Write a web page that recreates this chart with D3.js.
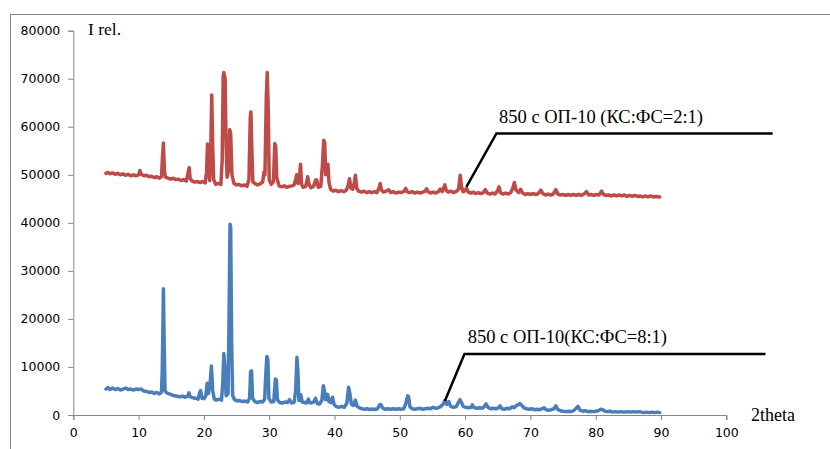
<!DOCTYPE html>
<html>
<head>
<meta charset="utf-8">
<script src="https://cdn.jsdelivr.net/npm/d3@7"></script>
<style>
  body { margin: 0; background: #fff; }
  svg { display: block; }
</style>
</head>
<body>
<div id="chart"></div>
<script>
// 2theta / intensity pairs
const redSeries = [
  [5.0,50300],[5.3,50500],[5.6,50200],[6.0,50400],[6.4,50100],[6.8,50300],[7.2,50000],[7.6,50200],
  [8.0,49900],[8.4,50100],[8.8,49800],[9.2,50000],[9.6,49800],[10.0,50000],[10.2,50900],[10.4,50100],
  [10.8,49800],[11.2,49900],[11.6,49600],[12.0,49700],[12.4,49400],[12.8,49600],[13.2,49300],[13.5,49600],
  [13.65,53500],[13.8,56600],[13.95,51000],[14.1,49500],[14.5,49300],[14.9,49100],[15.3,49300],[15.7,49000],
  [16.1,49100],[16.5,48800],[16.9,49000],[17.3,48700],[17.6,50500],[17.75,51500],[17.9,49200],[18.2,48700],
  [18.6,48500],[19.0,48600],[19.4,48400],[19.8,48600],[20.2,48300],[20.4,50500],[20.55,56400],[20.7,52000],
  [20.9,48800],[21.05,55000],[21.2,66600],[21.35,56000],[21.5,49000],[21.8,48000],[22.2,48200],[22.6,48000],
  [22.8,53000],[22.95,70500],[23.05,71300],[23.25,70000],[23.4,56000],[23.55,49500],[23.8,51000],[23.95,59400],
  [24.1,58500],[24.3,50000],[24.6,48200],[25.0,47900],[25.4,48000],[25.8,47700],[26.2,47900],[26.6,47600],
  [26.9,49000],[27.1,62000],[27.2,63100],[27.35,55000],[27.5,48500],[27.8,48200],[28.2,47900],[28.6,48100],
  [29.0,48500],[29.2,50600],[29.35,50000],[29.55,66000],[29.7,71300],[29.85,64000],[30.0,49000],[30.3,48000],
  [30.65,48600],[30.85,56500],[31.0,56000],[31.15,49500],[31.5,47700],[31.9,47500],[32.3,47700],[32.7,47400],
  [33.1,47600],[33.5,47700],[33.8,47900],[34.05,49000],[34.2,50000],[34.4,48200],[34.6,48800],[34.8,52200],
  [34.95,48000],[35.2,47400],[35.6,47600],[35.9,49600],[36.1,48000],[36.4,47300],[36.8,47600],[37.1,48900],
  [37.3,48900],[37.5,47400],[37.9,47600],[38.15,52000],[38.35,57200],[38.5,56800],[38.65,50000],[38.85,51000],
  [39.0,52200],[39.15,48500],[39.4,47000],[39.8,46600],[40.2,46800],[40.6,46500],[41.0,46700],[41.4,46500],
  [41.8,46800],[42.1,47800],[42.3,49200],[42.5,47200],[42.8,47000],[43.05,48500],[43.2,49900],[43.4,47200],
  [43.7,46600],[44.1,46400],[44.5,46600],[44.9,46300],[45.3,46500],[45.7,46300],[46.1,46500],[46.5,46300],
  [46.8,47200],[47.0,48200],[47.2,46800],[47.5,46400],[47.9,46600],[48.3,46900],[48.6,46300],[49.0,46500],
  [49.4,46200],[49.8,46400],[50.2,46300],[50.7,46600],[50.9,47200],[51.1,46500],[51.5,46300],[51.9,46500],
  [52.3,46200],[52.7,46400],[53.1,46200],[53.5,46400],[53.9,46600],[54.1,47100],[54.3,46500],[54.7,46200],
  [55.1,46400],[55.5,46200],[55.9,46500],[56.2,47000],[56.5,46500],[56.9,47900],[57.1,46800],[57.4,46400],
  [57.8,46600],[58.2,46300],[58.6,46500],[59.0,47000],[59.25,49900],[59.45,47500],[59.7,46500],[60.0,46700],
  [60.2,47200],[60.5,46400],[60.9,46200],[61.3,46400],[61.6,46100],[62.0,46300],[62.4,46100],[62.8,46300],
  [63.1,46900],[63.4,46200],[63.8,46000],[64.2,46200],[64.6,46000],[65.0,46800],[65.2,47500],[65.4,46300],
  [65.8,46000],[66.2,46200],[66.6,46000],[67.0,46300],[67.3,47200],[67.55,48400],[67.8,46800],[68.2,46300],
  [68.5,47000],[68.8,46200],[69.2,45900],[69.6,46100],[70.0,45900],[70.4,46100],[70.8,45900],[71.2,46100],
  [71.6,46800],[71.9,46100],[72.3,45800],[72.7,46000],[73.1,45800],[73.5,46000],[73.9,46900],[74.2,46000],
  [74.6,45800],[75.0,45900],[75.4,45700],[75.8,45900],[76.2,45700],[76.6,45900],[77.0,45700],[77.4,45900],
  [77.8,45700],[78.2,46000],[78.6,46500],[78.9,45800],[79.3,45900],[79.7,45700],[80.1,45900],[80.5,45800],
  [80.9,46600],[81.2,45900],[81.6,45700],[82.0,45800],[82.4,45600],[82.8,45800],[83.2,45600],[83.6,45800],
  [84.0,45600],[84.4,45800],[84.8,45500],[85.2,45700],[85.6,45500],[86.0,45700],[86.4,45500],[86.8,45600],
  [87.2,45400],[87.6,45600],[88.0,45400],[88.4,45600],[88.8,45400],[89.2,45500],[89.8,45400]
];

const blueSeries = [
  [5.0,5400],[5.3,5700],[5.6,5300],[6.0,5600],[6.4,5300],[6.8,5500],[7.2,5200],[7.6,5400],
  [8.0,5600],[8.4,5300],[8.8,5400],[9.2,5200],[9.6,5400],[10.0,5300],[10.4,5400],[10.8,5000],
  [11.2,4900],[11.6,4700],[12.0,4800],[12.4,4500],[12.8,4700],[13.2,4400],[13.5,4700],[13.62,9000],
  [13.7,16000],[13.8,26300],[13.92,15000],[14.05,5000],[14.3,4600],[14.7,4400],[15.1,4200],[15.5,4000],
  [15.9,3900],[16.3,3800],[16.7,3900],[17.1,3700],[17.5,3900],[17.7,4600],[17.9,3800],[18.3,3600],
  [18.7,3500],[19.1,3300],[19.35,4600],[19.5,5100],[19.7,3500],[20.0,3400],[20.3,4000],[20.5,6600],
  [20.7,4500],[20.95,6500],[21.15,10200],[21.35,5000],[21.6,3300],[21.9,3100],[22.3,3300],[22.7,3100],
  [22.9,7000],[23.05,12800],[23.2,10500],[23.4,4000],[23.7,4500],[23.85,20000],[24.0,39700],[24.1,39000],
  [24.25,15000],[24.4,4000],[24.7,3200],[25.1,2900],[25.5,3000],[25.9,2800],[26.3,2900],[26.7,2700],
  [27.0,3500],[27.15,9000],[27.3,9200],[27.45,3500],[27.8,2800],[28.2,2600],[28.6,2800],[29.0,2700],
  [29.3,3300],[29.5,9000],[29.65,12200],[29.8,11500],[29.95,3500],[30.3,2700],[30.7,2800],[30.95,7500],
  [31.1,7300],[31.25,3200],[31.6,2600],[32.0,2500],[32.4,2700],[32.8,2600],[33.1,3200],[33.4,2500],
  [33.8,2600],[34.05,5000],[34.25,12000],[34.4,9000],[34.55,3000],[34.85,4200],[35.05,2700],[35.4,2600],
  [35.7,2500],[36.0,3300],[36.2,2600],[36.5,2500],[36.8,2700],[37.1,3500],[37.35,2400],[37.7,2300],
  [38.05,3000],[38.3,6100],[38.45,5000],[38.65,3200],[38.95,4300],[39.15,2800],[39.4,2600],[39.7,3700],
  [39.9,2300],[40.3,1700],[40.7,1600],[41.1,1800],[41.5,1600],[41.9,2500],[42.15,5800],[42.35,4500],
  [42.6,2200],[42.9,2000],[43.2,3100],[43.45,1800],[43.8,1500],[44.2,1300],[44.6,1200],[45.0,1300],
  [45.4,1150],[45.8,1250],[46.2,1150],[46.6,1300],[46.9,2100],[47.1,2200],[47.4,1400],[47.8,1200],
  [48.2,1300],[48.6,1200],[49.0,1300],[49.4,1200],[49.8,1300],[50.2,1200],[50.6,1300],[50.95,2500],
  [51.2,4000],[51.35,3800],[51.55,1700],[51.9,1300],[52.3,1200],[52.7,1300],[53.1,1400],[53.5,1200],
  [53.9,1300],[54.3,1400],[54.7,1300],[55.1,1600],[55.5,1400],[55.9,1500],[56.3,1800],[56.6,2200],
  [56.9,3000],[57.2,2200],[57.5,2800],[57.8,1800],[58.2,1600],[58.6,1700],[58.9,2400],[59.2,3200],
  [59.45,2600],[59.7,1800],[60.1,1600],[60.5,1500],[60.9,1600],[61.1,2100],[61.4,1500],[61.8,1400],
  [62.2,1500],[62.6,1400],[62.9,1700],[63.2,2300],[63.5,1600],[63.9,1300],[64.3,1400],[64.7,1300],
  [65.1,1500],[65.35,1900],[65.6,1300],[66.0,1200],[66.4,1400],[66.8,1300],[67.2,1700],[67.5,1500],
  [67.8,1900],[68.1,2100],[68.4,2400],[68.7,2000],[69.0,1500],[69.4,1300],[69.8,1200],[70.2,1300],
  [70.6,1100],[71.0,1200],[71.4,1100],[71.8,1300],[72.1,1500],[72.4,1100],[72.8,1000],[73.2,1100],
  [73.6,1300],[73.9,1900],[74.2,1100],[74.6,900],[75.0,800],[75.4,700],[75.8,800],[76.2,700],
  [76.6,900],[77.0,1400],[77.3,1800],[77.6,1000],[78.0,800],[78.4,900],[78.8,700],[79.2,800],
  [79.6,700],[80.0,800],[80.4,900],[80.8,1200],[81.1,1100],[81.4,800],[81.8,700],[82.2,800],
  [82.6,600],[83.0,700],[83.4,600],[83.8,700],[84.2,600],[84.6,600],[85.0,700],[85.4,600],
  [85.8,700],[86.2,600],[86.6,700],[87.0,600],[87.4,500],[87.8,600],[88.2,500],[88.6,600],
  [89.0,500],[89.4,600],[89.8,500]
];

const xTicks = [0, 10, 20, 30, 40, 50, 60, 70, 80, 90, 100];
const yTicks = [0, 10000, 20000, 30000, 40000, 50000, 60000, 70000, 80000];

// callouts: text, anchor point, elbow, end of shelf (data units)
const labels = [
  { text: '850 с ОП-10 (КС:ФС=2:1)', tx: 65.2, ty: 60800, pts: [[60.2, 47500], [64.8, 58600], [107.1, 58600]] },
  { text: '850 с ОП-10(КС:ФС=8:1)', tx: 60.4, ty: 15000, pts: [[56.9, 2900], [59.9, 12700], [106.0, 12700]] }
];

const width = 830, height = 449;
const svg = d3.select('#chart').append('svg')
  .attr('width', width)
  .attr('height', height);

// outer frame (open on the right and bottom)
svg.append('rect')
  .attr('x', 10.5).attr('y', 14.5)
  .attr('width', 840).attr('height', 460)
  .attr('fill', 'none')
  .attr('stroke', '#868686');

const x = d3.scaleLinear().domain([0, 100]).range([73.3, 726.3]);
const y = d3.scaleLinear().domain([0, 80000]).range([415, 30.7]);

const axisColor = '#868686';
const tickFont = '"DejaVu Sans", Verdana, sans-serif';
const serif = '"Liberation Serif", "Times New Roman", serif';

const xAxis = svg.append('g')
  .attr('transform', `translate(0,${y(0)})`)
  .call(d3.axisBottom(x).tickValues(xTicks).tickSize(5).tickPadding(8).tickFormat(d3.format('d')));
const yAxis = svg.append('g')
  .attr('transform', `translate(${x(0)},0)`)
  .call(d3.axisLeft(y).tickValues(yTicks).tickSize(5).tickPadding(8).tickFormat(d3.format('d')));

[xAxis, yAxis].forEach(g => {
  g.select('.domain').attr('stroke', axisColor);
  g.selectAll('.tick line').attr('stroke', axisColor);
  g.selectAll('.tick text')
    .attr('fill', '#000')
    .style('font-family', tickFont)
    .style('font-size', '12.5px');
});

const line = d3.line()
  .x(d => x(d[0]))
  .y(d => y(d[1]));

svg.append('path')
  .datum(redSeries)
  .attr('d', line)
  .attr('fill', 'none')
  .attr('stroke', '#BE4B48')
  .attr('stroke-width', 3.5)
  .attr('stroke-linejoin', 'round')
  .attr('stroke-linecap', 'round');

svg.append('path')
  .datum(blueSeries)
  .attr('d', line)
  .attr('fill', 'none')
  .attr('stroke', '#4A7EBB')
  .attr('stroke-width', 3.5)
  .attr('stroke-linejoin', 'round')
  .attr('stroke-linecap', 'round');

// axis titles
svg.append('text')
  .attr('x', 88).attr('y', 35)
  .style('font-family', serif).style('font-size', '17.5px')
  .text('I rel.');

svg.append('text')
  .attr('x', 751).attr('y', 421)
  .style('font-family', serif).style('font-size', '18px')
  .text('2theta');

// callouts
const callouts = svg.selectAll('.callout')
  .data(labels)
  .join('g')
  .classed('callout', true);

callouts.append('path')
  .attr('d', d => d3.line().x(p => x(p[0])).y(p => y(p[1]))(d.pts))
  .attr('fill', 'none')
  .attr('stroke', '#000')
  .attr('stroke-width', 2.5);

callouts.append('text')
  .attr('x', d => x(d.tx))
  .attr('y', d => y(d.ty))
  .style('font-family', serif)
  .style('font-size', '18.5px')
  .text(d => d.text);
</script>
</body>
</html>
